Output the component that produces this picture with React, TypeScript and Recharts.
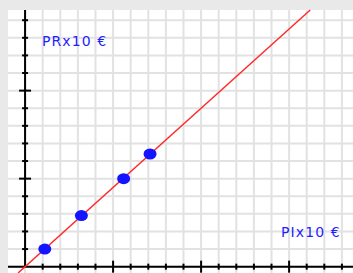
import {
  ComposedChart,
  Scatter,
  XAxis,
  YAxis,
  CartesianGrid,
  ReferenceLine,
} from "recharts";

// PI (x10 €) and PR (x10 €) of the plotted points
const piValues = [1.12, 3.2, 5.6, 7.1];
const prValues = [1.0, 2.9, 5.0, 6.4];

// fitted line PR = 0.9 * PI, drawn between these two ends
const fitStart = { pi: -0.4, pr: -0.36 };
const fitEnd = { pi: 16.2, pr: 14.58 };

// grid and tick positions (units of 10 €)
const gridX = [-1, 0, 1, 2, 3, 4, 5, 6, 7, 8, 9, 10, 11, 12, 13, 14, 15, 16, 17, 18];
const gridY = [0, 1, 2, 3, 4, 5, 6, 7, 8, 9, 10, 11, 12, 13, 14];
const tickX = [1, 2, 3, 4, 5, 6, 7, 8, 9, 10, 11, 12, 13, 14, 15, 16, 17, 18];
const tickY = [1, 2, 3, 4, 5, 6, 7, 8, 9, 10, 11, 12, 13, 14];
const majorEvery = 5;

const xDomain = [-0.97, 18.63];
const yDomain = [-0.36, 14.58];

const yLabel = "PRx10 €";
const xLabel = "PIx10 €";

const points = piValues.map((pi, i) => ({ pi, pr: prValues[i] }));
const xTickData = tickX.map((v) => ({ pi: v, pr: 0, major: v % majorEvery === 0 }));
const yTickData = tickY.map((v) => ({ pi: 0, pr: v, major: v % majorEvery === 0 }));

const XTick = (props: any) => {
  const len = props.payload?.major ? 6 : 3;
  return (
    <line
      x1={props.cx}
      x2={props.cx}
      y1={props.cy - len}
      y2={props.cy + len}
      stroke="#000"
      strokeWidth={2}
    />
  );
};

const YTick = (props: any) => {
  const len = props.payload?.major ? 6 : 3;
  return (
    <line
      x1={props.cx - len}
      x2={props.cx + len}
      y1={props.cy}
      y2={props.cy}
      stroke="#000"
      strokeWidth={2}
    />
  );
};

const Dot = (props: any) => (
  <ellipse cx={props.cx} cy={props.cy} rx={6.5} ry={5.5} fill="#1414ff" />
);

const labelStyle = {
  fontFamily: "DejaVu Sans, sans-serif",
  fontSize: 14,
  letterSpacing: 1.1,
  fill: "#1f1fff",
};

export default function App() {
  return (
    <div
      style={{
        position: "absolute",
        left: 0,
        top: 0,
        width: 353,
        height: 273,
        background: "#e9e9e9",
      }}
    >
      <ComposedChart
        width={353}
        height={273}
        margin={{ top: 10, left: 8, right: 0, bottom: 0 }}
      >
        <CartesianGrid fill="#ffffff" horizontal={false} vertical={false} />
        <XAxis
          type="number"
          dataKey="pi"
          domain={xDomain}
          allowDataOverflow
          hide
        />
        <YAxis
          type="number"
          dataKey="pr"
          domain={yDomain}
          allowDataOverflow
          hide
        />
        {gridX.map((v) => (
          <ReferenceLine key={`gx${v}`} x={v} stroke="#e2e2e2" strokeWidth={2} />
        ))}
        {gridY.map((v) => (
          <ReferenceLine key={`gy${v}`} y={v} stroke="#e2e2e2" strokeWidth={2} />
        ))}
        <ReferenceLine
          segment={[
            { x: xDomain[0], y: 0 },
            { x: xDomain[1], y: 0 },
          ]}
          stroke="#000"
          strokeWidth={2}
        />
        <ReferenceLine
          segment={[
            { x: 0, y: 0 },
            { x: 0, y: yDomain[1] },
          ]}
          stroke="#000"
          strokeWidth={2}
        />
        <Scatter data={xTickData} shape={XTick} isAnimationActive={false} />
        <Scatter data={yTickData} shape={YTick} isAnimationActive={false} />
        <ReferenceLine
          segment={[
            { x: fitStart.pi, y: fitStart.pr },
            { x: fitEnd.pi, y: fitEnd.pr },
          ]}
          stroke="#ff2b2b"
          strokeWidth={1.5}
        />
        <Scatter data={points} shape={Dot} isAnimationActive={false} />
      </ComposedChart>
      <svg
        width={353}
        height={273}
        style={{ position: "absolute", left: 0, top: 0, pointerEvents: "none" }}
      >
        <text x={42} y={46} style={labelStyle}>
          {yLabel}
        </text>
        <text x={281} y={237} style={labelStyle}>
          {xLabel}
        </text>
      </svg>
    </div>
  );
}
